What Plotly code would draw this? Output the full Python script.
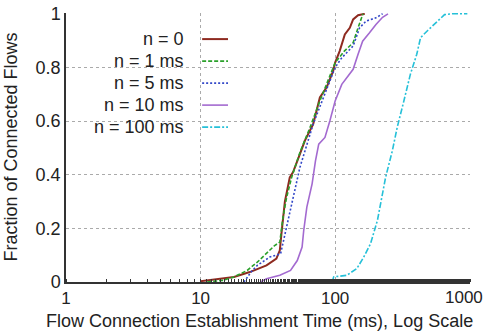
import plotly.graph_objects as go

# ---- data ----
n0_x = [10, 17.7, 23.2, 30.9, 36.6, 38.8, 39.9, 42.3, 46, 48.7, 54.7, 59.6, 68.7, 77, 86.3, 96.7, 100, 108, 118, 128.5, 136, 148, 166]
n0_y = [0.003, 0.019, 0.037, 0.062, 0.087, 0.118, 0.18, 0.30, 0.39, 0.41, 0.477, 0.527, 0.589, 0.688, 0.725, 0.787, 0.818, 0.861, 0.923, 0.948, 0.979, 0.995, 1.0]

n1_x = [11.2, 14.7, 17.7, 22.2, 26.4, 30.9, 35.5, 38.8, 41, 43.6, 47.5, 54.7, 65, 77, 91, 100, 117, 136, 148, 157, 161]
n1_y = [0.0, 0.006, 0.019, 0.043, 0.074, 0.105, 0.136, 0.149, 0.242, 0.316, 0.39, 0.483, 0.576, 0.675, 0.762, 0.818, 0.861, 0.892, 0.948, 0.99, 1.0]

n5_x = [21, 23.7, 26.4, 32.7, 39.3, 42.3, 46.6, 50.7, 54.7, 62, 68.7, 80, 91, 100, 112, 136, 152, 170, 201, 225]
n5_y = [0.0, 0.037, 0.062, 0.093, 0.105, 0.18, 0.279, 0.353, 0.427, 0.514, 0.589, 0.675, 0.75, 0.8, 0.836, 0.88, 0.948, 0.973, 0.985, 1.0]

n10_x = [27.9, 30.9, 38.8, 46.6, 52.3, 56.8, 58.4, 61.6, 67.4, 71.4, 75.5, 84, 91.4, 100, 112, 136, 148, 160, 180, 201, 225, 247]
n10_y = [0.0, 0.012, 0.025, 0.043, 0.08, 0.13, 0.192, 0.279, 0.366, 0.452, 0.514, 0.539, 0.601, 0.675, 0.737, 0.793, 0.849, 0.898, 0.929, 0.96, 0.987, 1.0]

n100_x = [95, 97.5, 122, 145, 163, 183, 206, 230, 237, 266, 289, 324, 362, 404, 431, 483, 540, 600, 650, 740, 960]
n100_y = [0.0, 0.019, 0.025, 0.05, 0.093, 0.142, 0.229, 0.353, 0.39, 0.489, 0.576, 0.675, 0.774, 0.849, 0.911, 0.936, 0.96, 0.979, 0.997, 1.0, 1.0]

series_names = ["n = 0", "n = 1 ms", "n = 5 ms", "n = 10 ms", "n = 100 ms"]
x_tick_vals = [1, 10, 100, 1000]
x_tick_text = ["1", "10", "100", ""]
x_last_label = "1000"
y_tick_vals = [0, 0.2, 0.4, 0.6, 0.8, 1]
y_tick_text = ["0", "0.2", "0.4", "0.6", "0.8", "1"]
x_title = "Flow Connection Establishment Time (ms), Log Scale"
y_title = "Fraction of Connected Flows"

colors = ["#8e2a20", "#2aa02a", "#3348c8", "#a36ad0", "#25c0d8"]
dashes = ["solid", "4px,2px", "2px,2px", "solid", "6px,2px,2px,2px"]
widths = [2, 1.6, 1.6, 1.6, 1.6]

FONT = "Liberation Sans, Arial, sans-serif"
TXT = "#222222"
FS = 18
TFS = 17

fig = go.Figure()
data = [(n0_x, n0_y), (n1_x, n1_y), (n5_x, n5_y), (n10_x, n10_y), (n100_x, n100_y)]
for (xs, ys), name, c, d, w in zip(data, series_names, colors, dashes, widths):
    fig.add_trace(go.Scatter(x=xs, y=ys, mode="lines", name=name, showlegend=False,
                             line=dict(color=c, dash=d, width=w)))

# manual legend (text right-aligned, sample line on the right)
leg_top = 0.903
leg_step = 0.0818
for i, (name, c, d, w) in enumerate(zip(series_names, colors, dashes, widths)):
    yy = leg_top - i * leg_step
    fig.add_annotation(x=0.296, y=yy, xref="paper", yref="paper", text=name,
                       showarrow=False, xanchor="right", yanchor="middle",
                       font=dict(family=FONT, size=FS, color=TXT))
    fig.add_shape(type="line", xref="paper", yref="paper", x0=0.337, x1=0.401,
                  y0=yy, y1=yy, line=dict(color=c, dash=d, width=w))

# last x tick label, kept inside the page
fig.add_annotation(x=1.037, y=0, xref="paper", yref="paper", yshift=-4, text=x_last_label,
                   showarrow=False, xanchor="right", yanchor="top",
                   font=dict(family=FONT, size=TFS, color=TXT))

# axis titles
fig.add_annotation(x=0.478, y=0, xref="paper", yref="paper", yshift=-27, text=x_title,
                   showarrow=False, xanchor="center", yanchor="top",
                   font=dict(family=FONT, size=FS, color=TXT))
fig.add_annotation(x=0, y=0.5, xref="paper", yref="paper", xshift=-44, text=y_title,
                   textangle=-90, showarrow=False, xanchor="right", yanchor="middle",
                   font=dict(family=FONT, size=FS, color=TXT))

fig.update_layout(
    width=487, height=335,
    margin=dict(l=66, r=17, t=13, b=53),
    paper_bgcolor="white", plot_bgcolor="white",
    font=dict(family=FONT, size=FS, color=TXT),
    xaxis=dict(type="log", range=[0, 3.002], tickvals=x_tick_vals, ticktext=x_tick_text,
               showgrid=True, gridcolor="#aaaaaa", griddash="dot", gridwidth=1,
               showline=True, linecolor="#333333", linewidth=1.5, mirror=False,
               ticks="", zeroline=False, ticklabeloverflow="allow", automargin=False,
               minor=dict(ticks="inside", ticklen=3, tickcolor="#333333", showgrid=False),
               tickfont=dict(size=TFS)),
    yaxis=dict(range=[0, 1.003], tickvals=y_tick_vals, ticktext=y_tick_text,
               showgrid=True, gridcolor="#aaaaaa", griddash="dot", gridwidth=1,
               showline=True, linecolor="#333333", linewidth=1.5,
               ticks="", zeroline=False, ticklabeloverflow="allow", automargin=False,
               tickfont=dict(size=FS)),
)

fig.write_html("out.html", config={"displayModeBar": False},
               post_script="document.body.style.margin='0';document.body.style.overflow='hidden';")
